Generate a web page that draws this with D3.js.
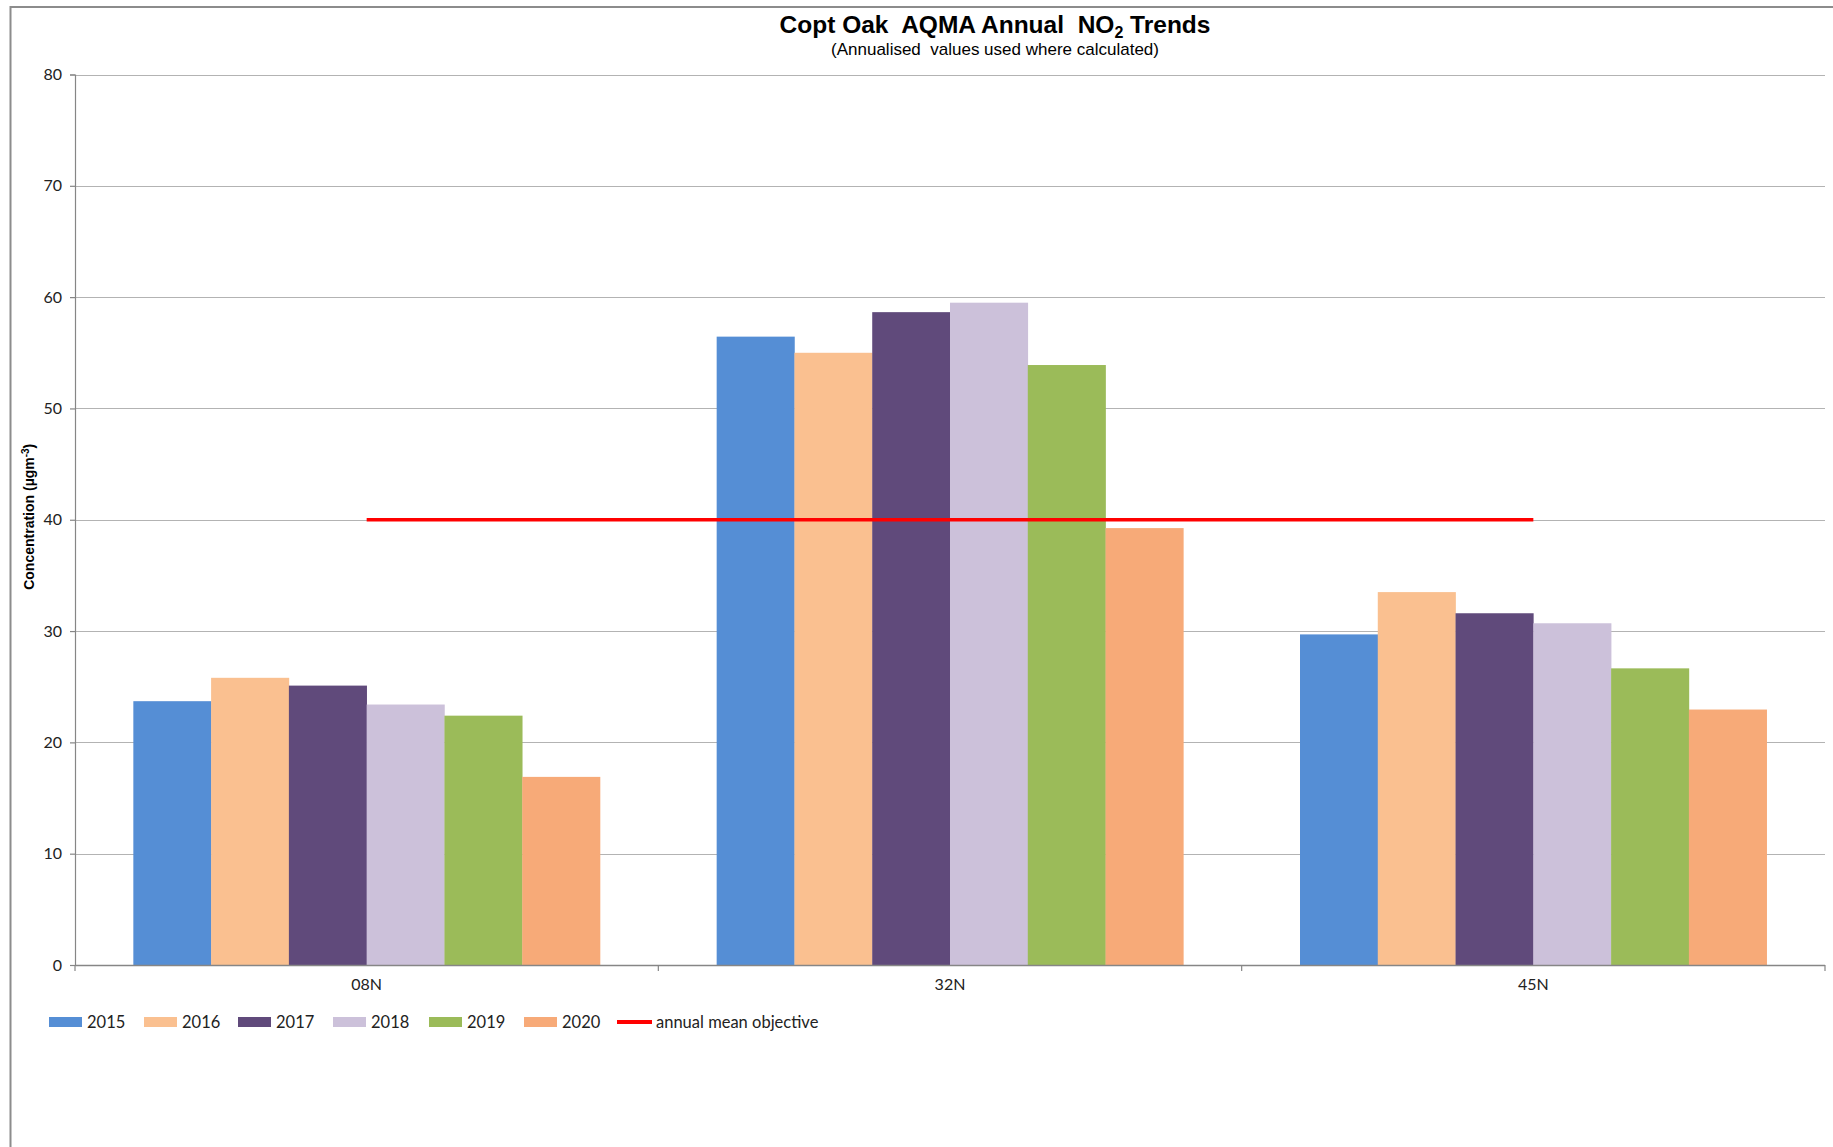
<!DOCTYPE html>
<html>
<head>
<meta charset="utf-8">
<script src="https://cdn.jsdelivr.net/npm/d3@7"></script>
<style>
  html, body { margin: 0; padding: 0; background: #fff; }
  svg { display: block; }
  text { white-space: pre; }
</style>
</head>
<body>
<svg id="chart" width="1833" height="1147"></svg>
<script>
// ---- data ----
const categories = ["08N", "32N", "45N"];
const years = ["2015", "2016", "2017", "2018", "2019", "2020"];
const values2015 = [23.7, 56.45, 29.7];
const values2016 = [25.8, 55.0, 33.5];
const values2017 = [25.1, 58.65, 31.6];
const values2018 = [23.4, 59.5, 30.7];
const values2019 = [22.4, 53.9, 26.65];
const values2020 = [16.9, 39.25, 22.95];
const objective = [40, 40, 40];
const yTicks = [0, 10, 20, 30, 40, 50, 60, 70, 80];
const colors = ["#558ED5", "#FAC090", "#604A7B", "#CCC1DA", "#9BBB59", "#F7AA78"];

const seriesValues = [values2015, values2016, values2017, values2018, values2019, values2020];

// ---- layout ----
const svg = d3.select("#chart");
const plot = { left: 75, right: 1825, top: 74.5, bottom: 965 };
const tickFont = "Lato, 'Open Sans', sans-serif";

// chart frame
svg.append("path")
  .attr("d", "M10.5,1147 L10.5,7 L1833,7")
  .attr("fill", "none").attr("stroke", "#8c8c8c").attr("stroke-width", 2);

const step = (plot.right - plot.left) / categories.length;
const xCat = d3.scaleBand().domain(categories).range([plot.left, plot.right]).padding(0);
const xBar = d3.scaleBand().domain(years).range([step * 0.1, step * 0.9]).padding(0);
const y = d3.scaleLinear().domain([0, 80]).range([plot.bottom, plot.top]);

// gridlines
svg.append("g").selectAll("line").data(yTicks.filter(t => t > 0)).join("line")
  .attr("x1", plot.left).attr("x2", plot.right)
  .attr("y1", d => Math.round(y(d)) + 0.5).attr("y2", d => Math.round(y(d)) + 0.5)
  .attr("stroke", "#b3b3b3").attr("stroke-width", 1.2);

// bars
svg.append("g").selectAll("g").data(categories).join("g")
  .attr("transform", d => `translate(${xCat(d)},0)`)
  .selectAll("rect")
  .data((d, i) => years.map((yr, j) => ({ yr, v: seriesValues[j][i], c: colors[j] })))
  .join("rect")
  .attr("x", d => xBar(d.yr))
  .attr("width", xBar.bandwidth() + 0.3)
  .attr("y", d => y(d.v))
  .attr("height", d => y(0) - y(d.v))
  .attr("fill", d => d.c);

// objective line
const line = d3.line().x((d, i) => xCat(categories[i]) + xCat.bandwidth() / 2).y(d => y(d));
svg.append("path").datum(objective)
  .attr("d", line)
  .attr("fill", "none").attr("stroke", "#FF0000").attr("stroke-width", 3.5);

// y axis
const yAxis = d3.axisLeft(y).tickValues(yTicks).tickSize(5).tickPadding(8).tickFormat(d3.format("d"));
const gy = svg.append("g").attr("transform", `translate(${plot.left},0)`).call(yAxis);
gy.select(".domain").attr("stroke", "#868686").attr("stroke-width", 1.2);
gy.selectAll(".tick line").attr("stroke", "#868686").attr("stroke-width", 1.2);
gy.selectAll(".tick text").attr("font-family", tickFont).attr("font-size", 16).attr("fill", "#222");

// x axis (category boundary ticks)
const xAxisG = svg.append("g").attr("transform", `translate(0,${plot.bottom})`);
xAxisG.append("line").attr("x1", plot.left).attr("x2", plot.right).attr("y1", 0.5).attr("y2", 0.5)
  .attr("stroke", "#868686").attr("stroke-width", 1.5);
const boundaries = categories.map(c => xCat(c)).concat([plot.right]);
xAxisG.selectAll("line.tk").data(boundaries).join("line").attr("class", "tk")
  .attr("x1", d => d).attr("x2", d => d).attr("y1", 0).attr("y2", 6)
  .attr("stroke", "#868686").attr("stroke-width", 1.2);
xAxisG.selectAll("text").data(categories).join("text")
  .attr("x", d => xCat(d) + xCat.bandwidth() / 2).attr("y", 25)
  .attr("text-anchor", "middle")
  .attr("font-family", tickFont).attr("font-size", 16).attr("fill", "#222")
  .text(d => d);

// title
const title = svg.append("text").attr("x", 995).attr("y", 33).attr("text-anchor", "middle")
  .attr("font-family", "'Liberation Sans', Arial, sans-serif").attr("font-weight", "bold").attr("font-size", 24.5).attr("fill", "#000");
title.append("tspan").text("Copt Oak  AQMA Annual  NO");
title.append("tspan").attr("font-size", 16).attr("dy", 5).text("2");
title.append("tspan").attr("dy", -5).text(" Trends");

svg.append("text").attr("x", 995).attr("y", 54.5).attr("text-anchor", "middle")
  .attr("font-family", "'Liberation Sans', Arial, sans-serif").attr("font-size", 17).attr("fill", "#000")
  .text("(Annualised  values used where calculated)");

// y label
const yl = svg.append("text")
  .attr("transform", `translate(34,${(plot.top + plot.bottom) / 2 - 3}) rotate(-90)`)
  .attr("text-anchor", "middle")
  .attr("font-family", "'Liberation Sans', Arial, sans-serif").attr("font-weight", "bold").attr("font-size", 14).attr("fill", "#000");
yl.append("tspan").text("Concentration (µgm");
yl.append("tspan").attr("font-size", 10).attr("dy", -5).text("-3");
yl.append("tspan").attr("dy", 5).text(")");

// legend
const legendX = [49, 144, 238, 333, 429, 524];
const lg = svg.append("g").attr("font-family", tickFont).attr("font-size", 16.5).attr("fill", "#222");
years.forEach((yr, i) => {
  lg.append("rect").attr("x", legendX[i]).attr("y", 1017).attr("width", 33).attr("height", 10).attr("fill", colors[i]);
  lg.append("text").attr("x", legendX[i] + 38).attr("y", 1028).text(yr);
});
lg.append("line").attr("x1", 617).attr("x2", 652).attr("y1", 1022).attr("y2", 1022)
  .attr("stroke", "#FF0000").attr("stroke-width", 4);
lg.append("text").attr("x", 656).attr("y", 1028).text("annual mean objective");
</script>
</body>
</html>
